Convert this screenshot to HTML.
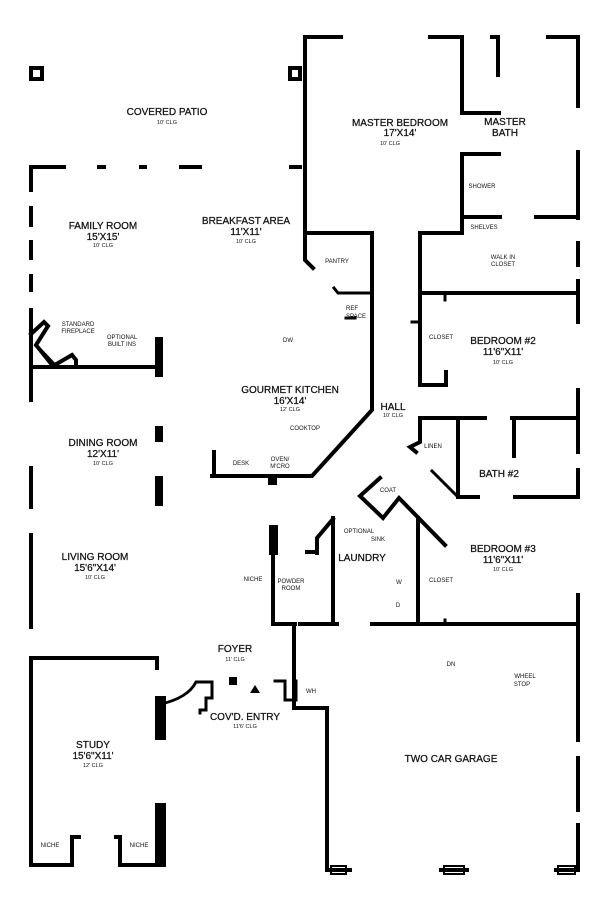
<!DOCTYPE html>
<html><head><style>
html,body{margin:0;padding:0;background:#fff;}
svg{display:block;}
text{font-family:"Liberation Sans",sans-serif;fill:#111;text-anchor:middle;}
.t{font-size:10px;stroke:#111;stroke-width:0.25;}
.s{font-size:6px;}
.x{font-size:5.5px;}
</style></head><body>
<svg width="600" height="901" viewBox="0 0 600 901" xmlns="http://www.w3.org/2000/svg">
<g fill="none" stroke="#000" stroke-width="4" stroke-linecap="square">
<rect x="31" y="68" width="11" height="11"/>
<rect x="290" y="68" width="10" height="11"/>
<path d="M31,190 V167 H64 M99,167H104 M141,167H145 M181,167H200 M291,167H300"/>
<path d="M31,208V225 M31,242V258 M31,276V290 M31,310V400 M31,468V507 M31,535V627"/>
<path d="M31,334 L44,322 L48,326 L36,345 L53,366 L72,355 L76,360 V367 M31,367 H157"/>
<path d="M36,345 L56,366" stroke-width="3"/>
<rect x="157" y="339" width="4" height="36" fill="#000"/>
<rect x="157" y="428" width="4" height="12" fill="#000"/>
<rect x="157" y="478" width="4" height="26" fill="#000"/>
<path d="M157,668 V658 H31 V865 H72 V837 H79 M116,837 H120 V865 H163"/>
<rect x="157" y="805" width="7" height="60" fill="#000"/>
<rect x="157" y="698" width="7" height="40" fill="#000"/>
<path d="M161,704 Q188,698 196,682 H212 V698 H206 V710 H200 V713" stroke-width="3"/>
<rect x="231" y="679" width="4" height="4" fill="#000"/>
<path d="M275,681 H285 V700 H296 V681" stroke-width="3"/>
<path d="M294,628 V708 H327 V870"/>
<path d="M341,37 H305 V260 L313,268 M305,233 H372 V410 L312,476 H212 M214,476 V452"/>
<path d="M334,288 L338,293 H370" stroke-width="3"/>
<path d="M430,37 H462 V113 H499 M492,37 H498 V75 M548,37 H578 V106"/>
<path d="M499,154 H462 V233 H420 V385 H446 V372 M462,217 H500 M536,217 H578 M578,152V218 M578,243V265 M578,281V322 M420,293 H578"/>
<path d="M578,390V452 M578,470V497 M420,418 V442 L410,447 L416,452 M420,418 H485 M458,418 V497 H478 M512,418 H578 M514,418 V456 M515,497 H578"/>
<path d="M432,471 L458,497" stroke-width="3"/>
<path d="M380,478 L360,496 L383,518 L399,498 L445,545"/>
<path d="M418,518 V624 M372,624 H578 M578,595V740 M578,758V810 M578,825V870 M300,624 H337 M333,518 V624 M317,552 H307 M317,553 V538 L333,519"/>
<path d="M273,527 V624 H295"/>
<rect x="271" y="527" width="5" height="26" fill="#000"/>
<rect x="270" y="477" width="5" height="6" fill="#000"/>
<path d="M327,870 H350 M441,870 H467 M556,870 H578" stroke-width="4"/>
<path d="M331,866 H346 V874 H331Z M444,866 H464 V874 H444Z M558,866 H575 V874 H558Z" stroke-width="2"/>
<path d="M346,318 H355" stroke-width="3"/>
<path d="M412,322 H420 M445,293 V300 M445,620 V624" stroke-width="3"/>
</g>
<path d="M255,685 L250,693 H260Z" fill="#000"/>
<g>
<text class="t" x="167" y="115">COVERED PATIO</text><text class="x" x="167" y="124">10' CLG</text>
<text class="t" x="103" y="229">FAMILY ROOM</text><text class="t" x="103" y="240">15'X15'</text><text class="x" x="103" y="247">10' CLG</text>
<text class="t" x="246" y="224">BREAKFAST AREA</text><text class="t" x="246" y="235">11'X11'</text><text class="x" x="246" y="243">10' CLG</text>
<text class="s" x="78" y="326">STANDARD</text><text class="s" x="78" y="333">FIREPLACE</text>
<text class="s" x="122" y="339">OPTIONAL</text><text class="s" x="122" y="346">BUILT INS</text>
<text class="s" x="288" y="342">DW</text>
<text class="t" x="103" y="446">DINING ROOM</text><text class="t" x="103" y="457">12'X11'</text><text class="x" x="103" y="465">10' CLG</text>
<text class="t" x="290" y="393">GOURMET KITCHEN</text><text class="t" x="290" y="404">16'X14'</text><text class="x" x="290" y="411">12' CLG</text>
<text class="s" x="305" y="430">COOKTOP</text>
<text class="s" x="241" y="465">DESK</text><text class="s" x="280" y="461">OVEN/</text><text class="s" x="280" y="468">M'CRO</text>
<text class="t" x="393" y="410">HALL</text><text class="x" x="393" y="417">10' CLG</text>
<text class="s" x="337" y="263">PANTRY</text>
<text class="s" x="352" y="310">REF</text><text class="s" x="356" y="318">SPACE</text>
<text class="t" x="400" y="126">MASTER BEDROOM</text><text class="t" x="400" y="136">17'X14'</text><text class="x" x="390" y="145">10' CLG</text>
<text class="t" x="505" y="125">MASTER</text><text class="t" x="505" y="136">BATH</text>
<text class="s" x="482" y="188">SHOWER</text><text class="s" x="484" y="229">SHELVES</text>
<text class="s" x="503" y="259">WALK IN</text><text class="s" x="503" y="266">CLOSET</text>
<text class="s" x="441" y="339">CLOSET</text>
<text class="t" x="503" y="344">BEDROOM #2</text><text class="t" x="503" y="355">11'6"X11'</text><text class="x" x="503" y="364">10' CLG</text>
<text class="s" x="433" y="448">LINEN</text>
<text class="t" x="499" y="477">BATH #2</text>
<text class="s" x="388" y="492">COAT</text>
<text class="s" x="359" y="533">OPTIONAL</text><text class="s" x="378" y="541">SINK</text>
<text class="t" x="362" y="561">LAUNDRY</text>
<text class="t" x="503" y="552">BEDROOM #3</text><text class="t" x="503" y="563">11'6"X11'</text><text class="x" x="503" y="571">10' CLG</text>
<text class="s" x="441" y="582">CLOSET</text><text class="s" x="399" y="584">W</text><text class="s" x="398" y="607">D</text>
<text class="t" x="95" y="560">LIVING ROOM</text><text class="t" x="95" y="571">15'6"X14'</text><text class="x" x="95" y="579">10' CLG</text>
<text class="s" x="253" y="581">NICHE</text><text class="s" x="291" y="583">POWDER</text><text class="s" x="291" y="590">ROOM</text>
<text class="t" x="235" y="652">FOYER</text><text class="x" x="235" y="661">11' CLG</text>
<text class="t" x="245" y="720">COV'D. ENTRY</text><text class="x" x="245" y="728">11'6' CLG</text>
<text class="s" x="311" y="693">WH</text>
<text class="s" x="451" y="666">DN</text>
<text class="s" x="525" y="678">WHEEL</text><text class="s" x="522" y="686">STOP</text>
<text class="t" x="451" y="762">TWO CAR GARAGE</text>
<text class="t" x="93" y="748">STUDY</text><text class="t" x="93" y="759">15'6"X11'</text><text class="x" x="93" y="767">12' CLG</text>
<text class="s" x="50" y="847">NICHE</text><text class="s" x="139" y="847">NICHE</text>
</g>
</svg>
</body></html>
